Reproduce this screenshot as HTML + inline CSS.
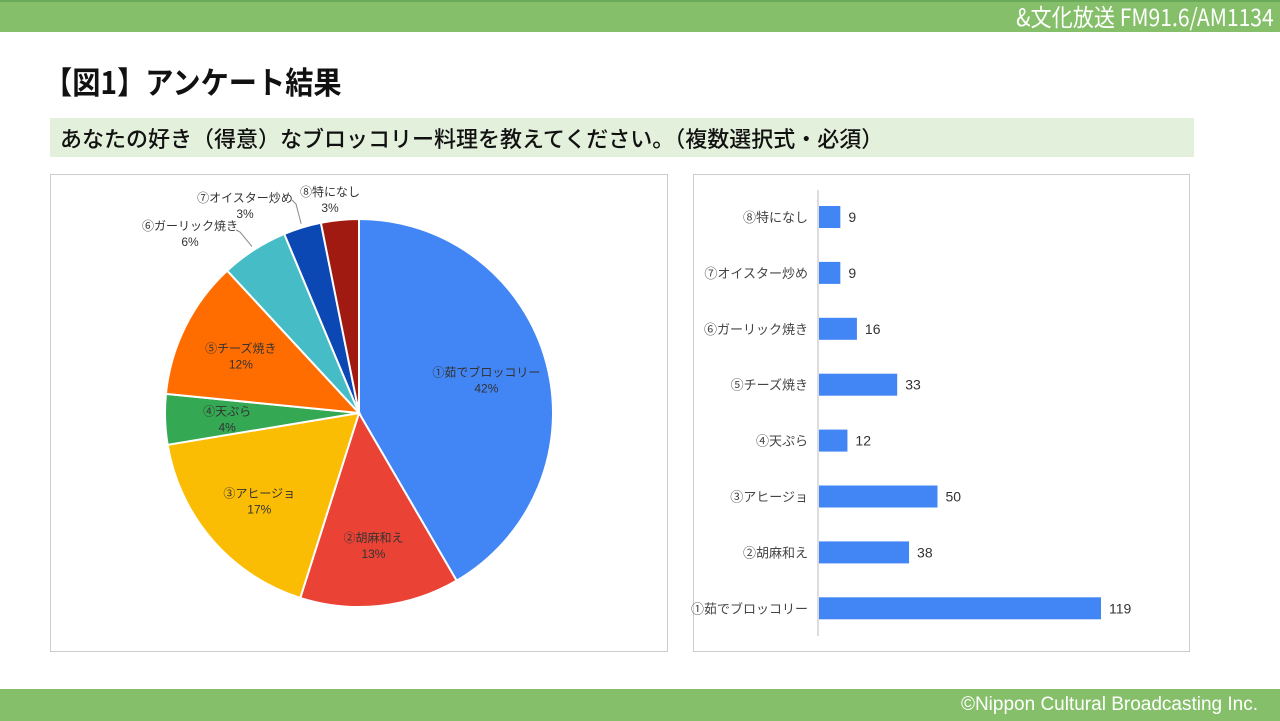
<!DOCTYPE html>
<html><head><meta charset="utf-8"><style>
body{margin:0;width:1280px;height:721px;background:#fff;position:relative;overflow:hidden;font-family:"Liberation Sans","Noto Sans CJK JP",sans-serif}
.abs{position:absolute}
</style></head><body>
<div class="abs" style="left:0;top:0;width:1280px;height:32px;background:#86bf6a;border-top:2px solid #6aa85a;box-sizing:border-box"></div>
<div class="abs" style="right:6px;top:2px;color:#fff;font-size:24px;font-family:'Noto Sans CJK JP',sans-serif;line-height:28px;transform:scaleX(0.88);transform-origin:right">&amp;文化放送 FM91.6/AM1134</div>
<div class="abs" style="left:44px;top:58px;font-size:31px;font-weight:bold;color:#111;font-family:'Noto Sans CJK JP',sans-serif;transform:scaleX(0.91);transform-origin:left">【図1】アンケート結果</div>
<div class="abs" style="left:50px;top:118px;width:1144px;height:39px;background:#e3f0db"></div>
<div class="abs" style="left:60px;top:120px;font-size:22px;color:#111;font-family:'Noto Sans CJK JP',sans-serif;line-height:36px;font-weight:500">あなたの好き（得意）なブロッコリー料理を教えてください。（複数選択式・必須）</div>
<div class="abs" style="left:50px;top:174px;width:618px;height:478px;border:1px solid #ccc;box-sizing:border-box"></div>
<div class="abs" style="left:693px;top:174px;width:497px;height:478px;border:1px solid #ccc;box-sizing:border-box"></div>
<svg class="abs" style="left:0;top:0" width="1280" height="721" id="chart"></svg>
<div class="abs" style="left:0;top:689px;width:1280px;height:32px;background:#86bf6a"></div>
<div class="abs" style="right:22px;top:693px;color:#fff;font-size:19px;line-height:24px">©Nippon Cultural Broadcasting Inc.</div>
<script>
const categories=["①茹でブロッコリー","②胡麻和え","③アヒージョ","④天ぷら","⑤チーズ焼き","⑥ガーリック焼き","⑦オイスター炒め","⑧特になし"];
const values=[119,38,50,12,33,16,9,9];
const colors=["#4285f4","#ea4335","#fbbc04","#34a853","#ff6d01","#46bdc6","#0b48b4","#a11a12"];
const NS="http://www.w3.org/2000/svg";
const svg=document.getElementById('chart');
function mk(t,a){const e=document.createElementNS(NS,t);for(const k in a)e.setAttribute(k,a[k]);svg.appendChild(e);return e;}
const total=values.reduce((a,b)=>a+b,0);
const cx=359,cy=413,r=194;
const outsideLabels={5:[190,226],6:[245,198],7:[330,192]};
const leaderEnds={5:[[236,230],[240,232]],6:[[292,200],[296,204]]};
let ang=0;
const pt=(a,rr)=>[cx+rr*Math.sin(a),cy-rr*Math.cos(a)];
values.forEach((v,i)=>{
  const a0=ang,a1=ang+v/total*2*Math.PI;ang=a1;
  const p0=pt(a0,r),p1=pt(a1,r);
  const large=(a1-a0)>Math.PI?1:0;
  const s=mk('path',{d:`M${cx},${cy}L${p0[0]},${p0[1]}A${r},${r} 0 ${large} 1 ${p1[0]},${p1[1]}Z`,fill:colors[i],stroke:'#fff','stroke-width':2});
  
  
  const pct=Math.round(v/total*100)+'%';
  const mid=(a0+a1)/2;
  let lp;
  if(outsideLabels[i]){
    lp=outsideLabels[i];
    if(leaderEnds[i]){const e=pt(mid,r*1.02);const q=leaderEnds[i];
      const ln=mk('path',{d:`M${e[0]},${e[1]}L${q[1][0]},${q[1][1]}L${q[0][0]},${q[0][1]}`,stroke:'#888',fill:'none','stroke-width':1});
      
      }
  } else {lp=pt(mid,r*0.68);lp=[lp[0],lp[1]-6];}
  const t=mk('text',{x:lp[0],y:lp[1]+4,'text-anchor':'middle','font-size':12,fill:'#333'});
  t.textContent=categories[i];
  
  
  const t2=mk('text',{x:lp[0],y:lp[1]+20,'text-anchor':'middle','font-size':12,fill:'#333'});
  t2.textContent=pct;
  
  
});
const x0=818,scale=282/119,rowTop=217,rowStep=55.9,bh=22;
const ax=mk('line',{x1:x0,x2:x0,y1:190,y2:636,stroke:'#bbb','stroke-width':1});


for(let k=0;k<categories.length;k++){
  const i=categories.length-1-k;
  const y=rowTop+k*rowStep;
  const w=values[i]*scale;
  const b=mk('rect',{x:x0+1,y:y-bh/2,width:w,height:bh,fill:'#4285f4'});
  
  
  const l=mk('text',{x:x0-10,y:y+5,'text-anchor':'end','font-size':13,fill:'#444'});
  l.textContent=categories[i];
  
  
  const vl=mk('text',{x:x0+w+9,y:y+5,'font-size':14,fill:'#333'});
  vl.textContent=values[i];
  
  
}
</script>
</body></html>
